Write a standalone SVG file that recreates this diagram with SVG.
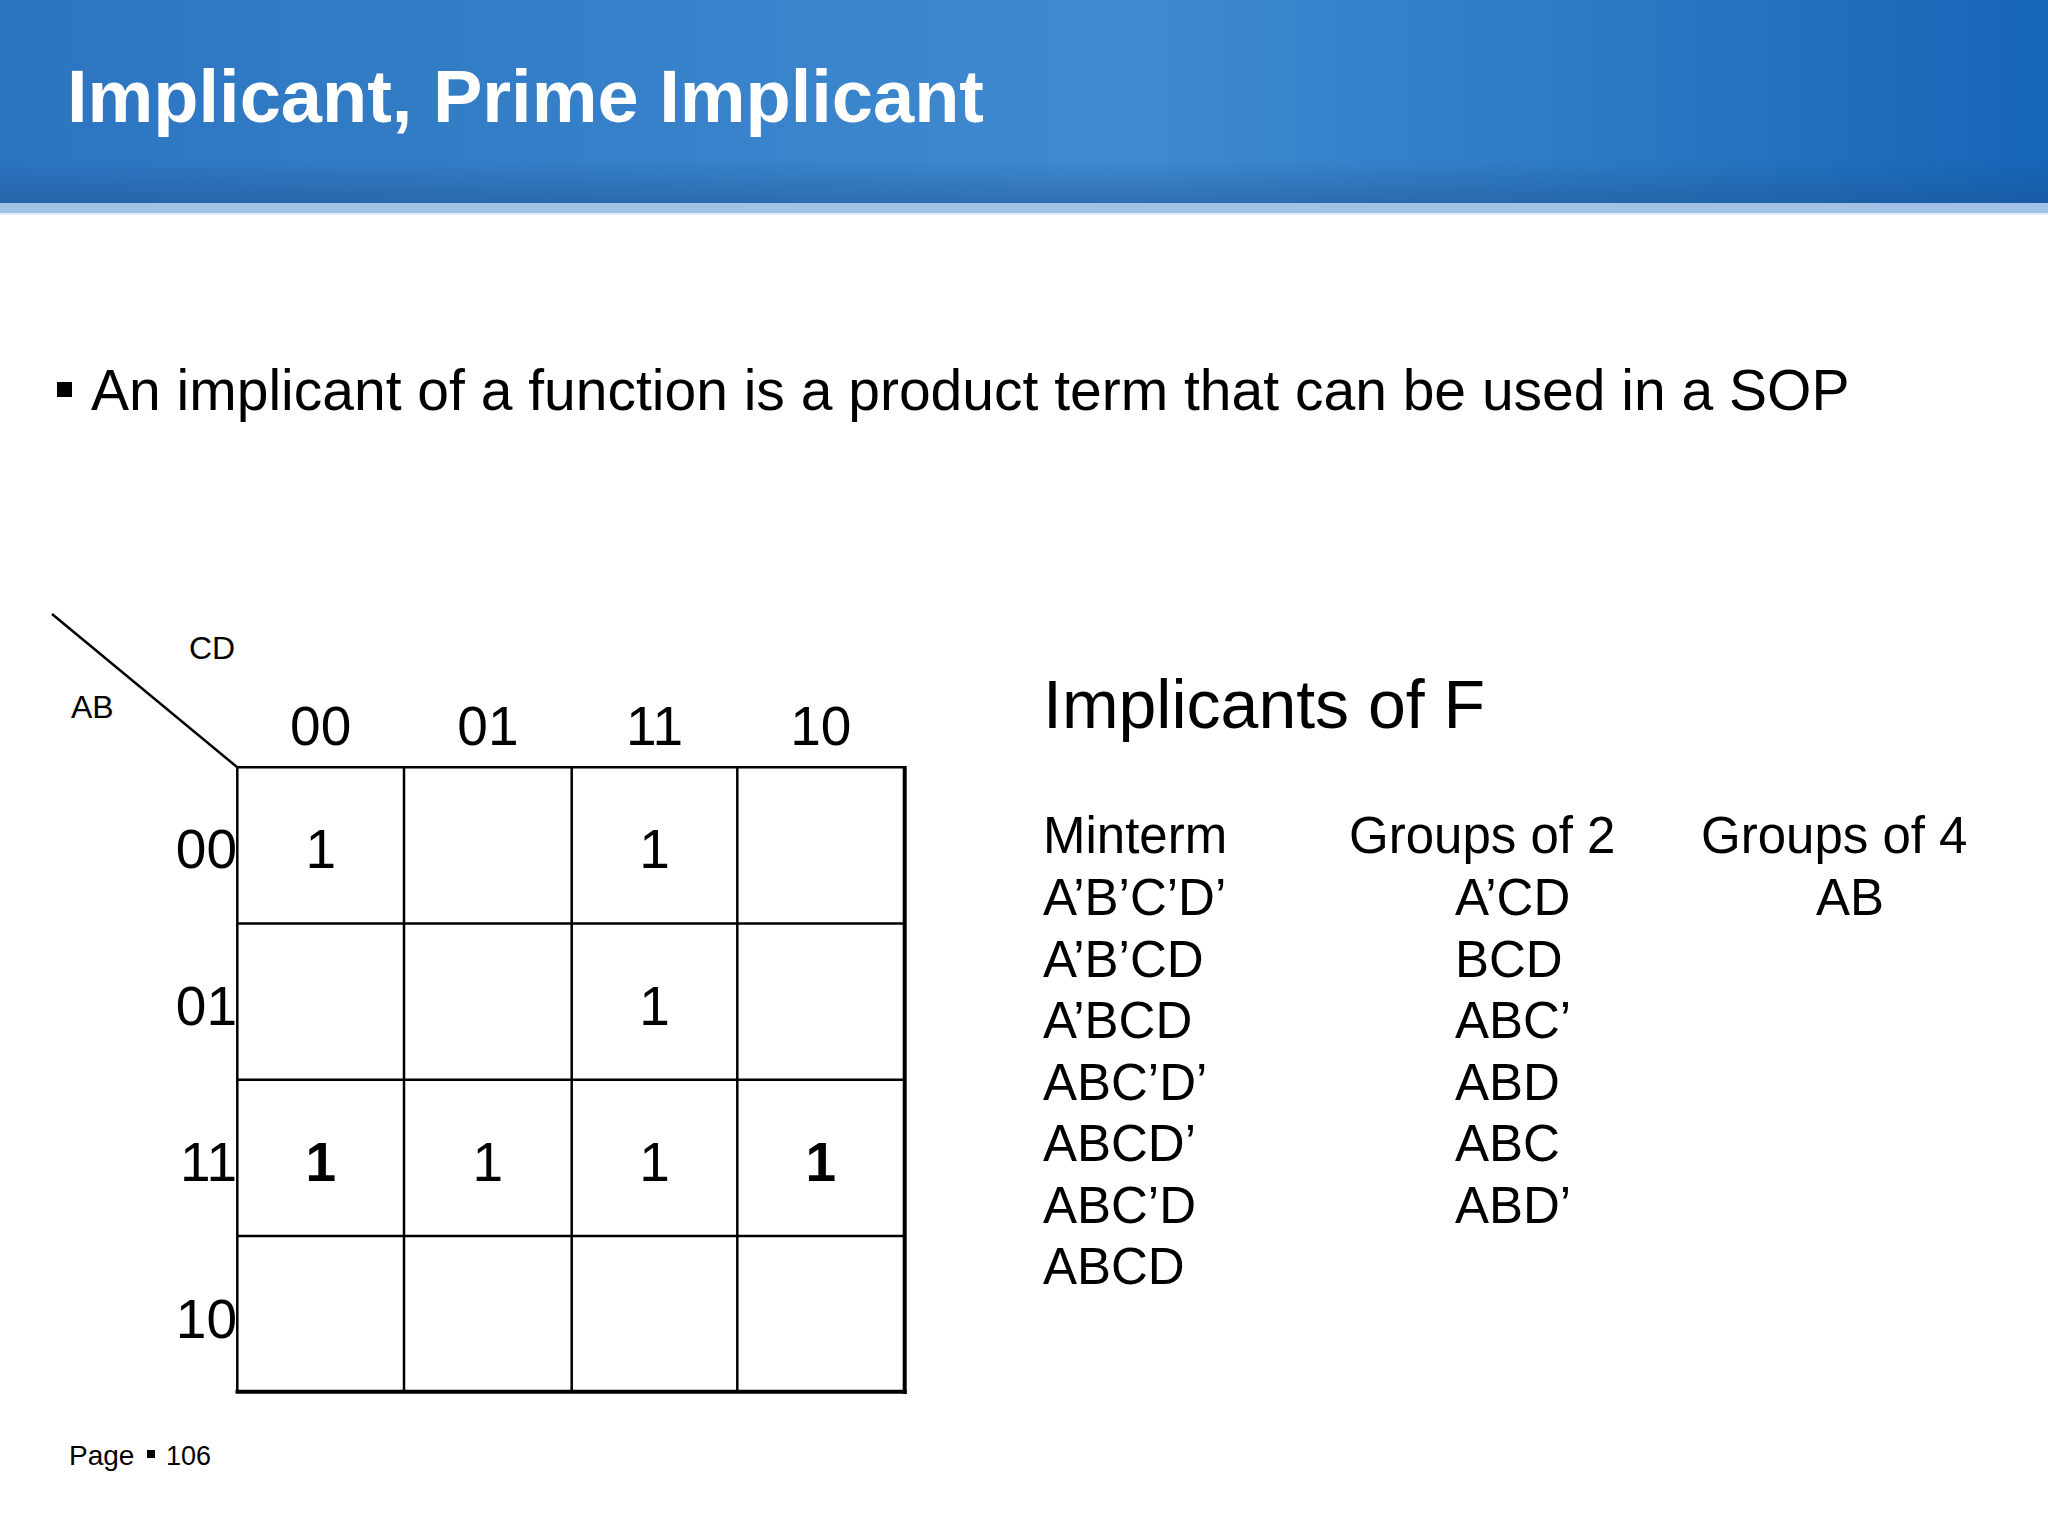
<svg xmlns="http://www.w3.org/2000/svg" width="2048" height="1536" viewBox="0 0 2048 1536">
<defs>
<linearGradient id="hdr" x1="0" y1="0" x2="1" y2="0">
<stop offset="0" stop-color="#2c74c0"/>
<stop offset="0.3" stop-color="#3580c8"/>
<stop offset="0.55" stop-color="#3f8ad0"/>
<stop offset="0.8" stop-color="#2a78c2"/>
<stop offset="1" stop-color="#1565b8"/>
</linearGradient>
<linearGradient id="hdrshade" x1="0" y1="0" x2="0" y2="1">
<stop offset="0" stop-color="#1d4f8a" stop-opacity="0"/>
<stop offset="1" stop-color="#1d4f8a" stop-opacity="0.45"/>
</linearGradient>
<style>
.t{font-family:"Liberation Sans",Arial,sans-serif;fill:#000}
.hd{font-size:55px;text-anchor:middle}
.rl{font-size:55px;text-anchor:end}
.one{font-size:55px;text-anchor:middle}
.b{font-weight:bold}
.tb{font-size:51px}
.grid{stroke:#000;stroke-width:2.5;fill:none}
</style>
</defs>
<rect width="2048" height="1536" fill="#ffffff"/>
<g id="header">
<rect x="0" y="0" width="2048" height="204" fill="url(#hdr)"/>
<rect x="0" y="160" width="2048" height="44" fill="url(#hdrshade)"/>
<rect x="0" y="203" width="2048" height="10" fill="#a2c2e5"/>
<rect x="0" y="213" width="2048" height="2" fill="#e4eef7"/>
<text x="67" y="122" font-family="'Liberation Sans',Arial,sans-serif" font-weight="bold" font-size="74" fill="#ffffff">Implicant, Prime Implicant</text>
</g>
<g id="bullet">
<rect x="57" y="382" width="15" height="15" fill="#000"/>
<text class="t" x="91" y="410" font-size="57">An implicant of a function is a product term that can be used in a SOP</text>
</g>
<g id="kmap">
<line class="grid" x1="52" y1="614" x2="237.3" y2="767.3"/>
<text class="t" x="189" y="659" font-size="32">CD</text>
<text class="t" x="71" y="718" font-size="32">AB</text>
<path class="grid" d="M237.3 767.3H904.3M237.3 923.5H904.3M237.3 1079.7H904.3M237.3 1236H904.3M237.3 767.3V1392M404 767.3V1392M571.7 767.3V1392M737.3 767.3V1392"/>
<line x1="904.7" y1="766" x2="904.7" y2="1394" stroke="#000" stroke-width="4"/>
<line x1="235.5" y1="1391.7" x2="906.7" y2="1391.7" stroke="#000" stroke-width="4"/>
<text class="t hd" x="320.7" y="745">00</text>
<text class="t hd" x="487.9" y="745">01</text>
<text class="t hd" x="654.5" y="745">11</text>
<text class="t hd" x="820.8" y="745">10</text>
<text class="t rl" x="237" y="868">00</text>
<text class="t rl" x="237" y="1024.6">01</text>
<text class="t rl" x="237" y="1181">11</text>
<text class="t rl" x="237" y="1337.7">10</text>
<text class="t one" x="320.7" y="868">1</text>
<text class="t one" x="654.5" y="868">1</text>
<text class="t one" x="654.5" y="1024.6">1</text>
<text class="t one b" x="320.7" y="1181">1</text>
<text class="t one" x="487.9" y="1181">1</text>
<text class="t one" x="654.5" y="1181">1</text>
<text class="t one b" x="820.8" y="1181">1</text>
</g>
<g id="implicants">
<text class="t" x="1043" y="727.7" font-size="68">Implicants of F</text>
<text class="t tb" x="1043" y="853">Minterm</text>
<text class="t tb" x="1043" y="915">A’B’C’D’</text>
<text class="t tb" x="1043" y="976.5">A’B’CD</text>
<text class="t tb" x="1043" y="1038">A’BCD</text>
<text class="t tb" x="1043" y="1099.5">ABC’D’</text>
<text class="t tb" x="1043" y="1161">ABCD’</text>
<text class="t tb" x="1043" y="1222.5">ABC’D</text>
<text class="t tb" x="1043" y="1284">ABCD</text>
<text class="t tb" x="1349" y="853">Groups of 2</text>
<text class="t tb" x="1455" y="915">A’CD</text>
<text class="t tb" x="1455" y="976.5">BCD</text>
<text class="t tb" x="1455" y="1038">ABC’</text>
<text class="t tb" x="1455" y="1099.5">ABD</text>
<text class="t tb" x="1455" y="1161">ABC</text>
<text class="t tb" x="1455" y="1222.5">ABD’</text>
<text class="t tb" x="1701" y="853">Groups of 4</text>
<text class="t tb" x="1816" y="914.5">AB</text>
</g>
<g id="footer">
<text class="t" x="69" y="1465" font-size="28">Page</text>
<rect x="147" y="1450" width="8" height="8" fill="#000"/>
<text class="t" x="166" y="1465" font-size="27">106</text>
</g>
</svg>
